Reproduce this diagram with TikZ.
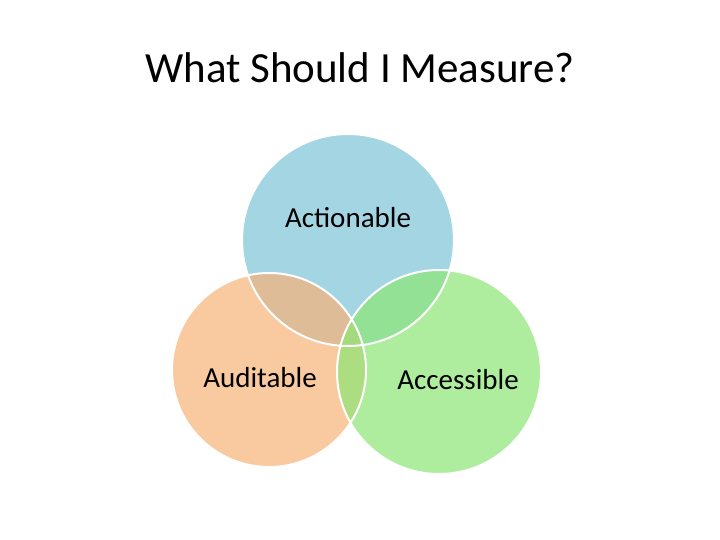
\documentclass[tikz,border=0pt]{standalone}
\usepackage{fontspec}
\setmainfont{Carlito}
\begin{document}
\begin{tikzpicture}[x=1pt,y=-1pt,
  circ/.style={fill opacity=0.7},
  lab/.style={font=\fontsize{29}{34}\selectfont}]
\useasboundingbox (0,0) rectangle (720,540);
\node[font=\fontsize{43}{50}\selectfont] (title) at (360,68) {What Should I Measure?};
\fill[circ,fill={rgb,255:red,125;green,195;blue,215}] (348,240) circle (106);
\fill[circ,fill={rgb,255:red,247;green,178;blue,120}] (269,370) circle (97);
\fill[circ,fill={rgb,255:red,140;green,230;blue,115}] (439,372) circle (102);
\draw[draw=white,line width=2pt] (348,240) circle (106) (269,370) circle (97) (439,372) circle (102);
\node[lab] (a) at (348,218) {Actionable};
\node[lab] (b) at (260,378) {Auditable};
\node[lab] (c) at (458,380) {Accessible};
\end{tikzpicture}
\end{document}
